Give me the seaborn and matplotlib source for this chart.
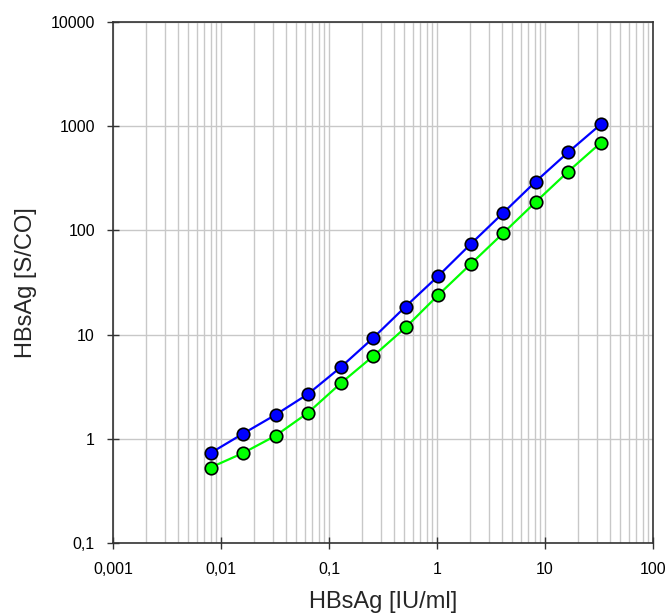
import numpy as np
import pandas as pd
import matplotlib
matplotlib.use("Agg")
import matplotlib.pyplot as plt
import seaborn as sns
from matplotlib.ticker import FixedLocator, FixedFormatter, LogLocator, NullFormatter

# Data
conc = [0.008, 0.016, 0.032, 0.064, 0.128, 0.256, 0.512, 1.024, 2.048, 4.096, 8.192, 16.384, 32.768]
blue_sco = [0.73, 1.12, 1.70, 2.69, 4.85, 9.27, 18.6, 36.4, 73.8, 147, 294, 562, 1040]
green_sco = [0.53, 0.73, 1.07, 1.78, 3.4, 6.2, 11.7, 23.9, 47.4, 94, 187, 367, 692]

x_ticks = [0.001, 0.01, 0.1, 1, 10, 100]
x_ticklabels = ["0,001", "0,01", "0,1", "1", "10", "100"]
y_ticks = [0.1, 1, 10, 100, 1000, 10000]
y_ticklabels = ["0,1", "1", "10", "100", "1000", "10000"]

df = pd.DataFrame({
    "conc": conc * 2,
    "sco": blue_sco + green_sco,
    "series": ["blue"] * len(conc) + ["green"] * len(conc),
})

sns.set_style("white")
plt.rcParams["font.family"] = ["Liberation Sans", "DejaVu Sans"]

fig = plt.figure(figsize=(6.69, 6.16), dpi=100)
ax = fig.add_axes([113 / 669, 1 - 543 / 616, 540 / 669, 521 / 616])

ax.set_xscale("log")
ax.set_yscale("log")
ax.set_xlim(0.001, 100)
ax.set_ylim(0.1, 10000)

# Grid: vertical major + minor, horizontal major only
ax.xaxis.set_minor_locator(LogLocator(base=10, subs=np.arange(2, 10)))
ax.xaxis.set_minor_formatter(NullFormatter())
ax.yaxis.set_minor_locator(FixedLocator([]))
ax.grid(True, which="both", axis="x", color="#c8c8c8", linewidth=1.0, zorder=0)
ax.grid(True, which="major", axis="y", color="#c8c8c8", linewidth=1.0, zorder=0)
ax.set_axisbelow(True)

sns.lineplot(
    data=df, x="conc", y="sco", hue="series",
    palette={"blue": "#0000ff", "green": "#00ff00"},
    marker="o", markersize=9, markeredgecolor="black", markeredgewidth=1.2,
    linewidth=1.6, legend=False, ax=ax, zorder=3,
)

ax.xaxis.set_major_locator(FixedLocator(x_ticks))
ax.xaxis.set_major_formatter(FixedFormatter(x_ticklabels))
ax.yaxis.set_major_locator(FixedLocator(y_ticks))
ax.yaxis.set_major_formatter(FixedFormatter(y_ticklabels))
ax.tick_params(which="major", direction="inout", length=8, width=1.0, color="#333333",
               labelsize=11.5, labelcolor="black", bottom=True, left=True)
ax.tick_params(axis="x", which="major", pad=10)
ax.tick_params(axis="y", which="major", pad=9)
ax.tick_params(which="minor", length=0)

for s in ax.spines.values():
    s.set_color("#333333")
    s.set_linewidth(1.2)
    s.set_visible(True)

ax.set_xlabel("HBsAg [IU/ml]", fontsize=17, labelpad=10)
ax.set_ylabel("HBsAg [S/CO]", fontsize=17, labelpad=10)

fig.savefig("out.png", dpi=100)
